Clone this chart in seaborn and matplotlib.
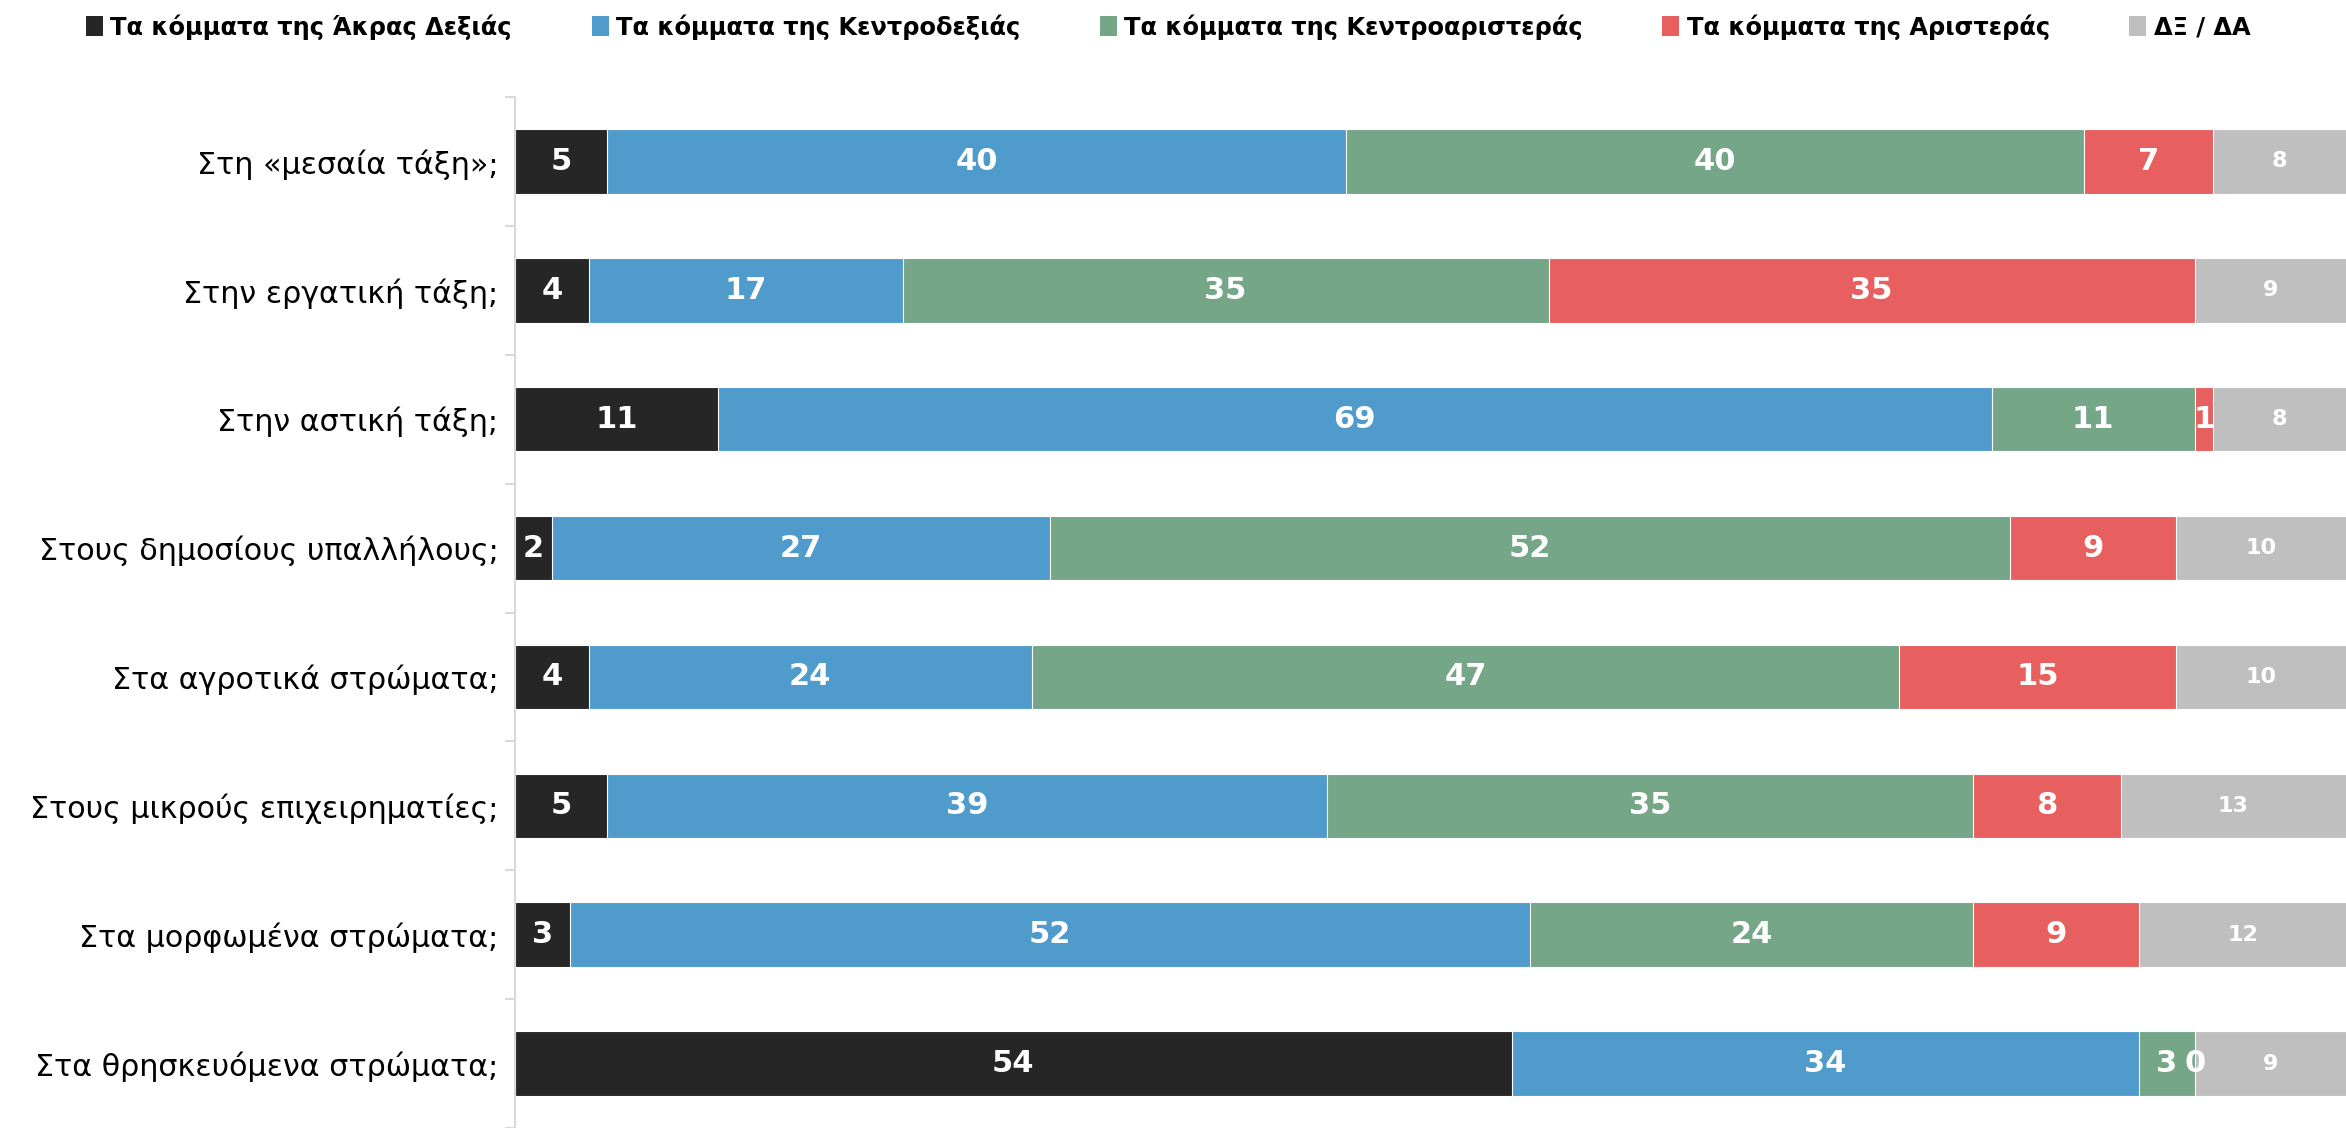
import numpy as np
import pandas as pd
import matplotlib
matplotlib.use("Agg")
import matplotlib.pyplot as plt
import seaborn as sns
from matplotlib.patches import Patch

# ---------------------------------------------------------
# DATA (% of respondents)
# ---------------------------------------------------------
categories = [
    "Στη «μεσαία τάξη»;",
    "Στην εργατική τάξη;",
    "Στην αστική τάξη;",
    "Στους δημοσίους υπαλλήλους;",
    "Στα αγροτικά στρώματα;",
    "Στους μικρούς επιχειρηματίες;",
    "Στα μορφωμένα στρώματα;",
    "Στα θρησκευόμενα στρώματα;",
]

series_names = [
    "Τα κόμματα της Άκρας Δεξιάς",
    "Τα κόμματα της Κεντροδεξιάς",
    "Τα κόμματα της Κεντροαριστεράς",
    "Τα κόμματα της Αριστεράς",
    "ΔΞ / ΔΑ",
]

far_right = [5, 4, 11, 2, 4, 5, 3, 54]
centre_right = [40, 17, 69, 27, 24, 39, 52, 34]
centre_left = [40, 35, 11, 52, 47, 35, 24, 3]
left_parties = [7, 35, 1, 9, 15, 8, 9, 0]
dont_know = [8, 9, 8, 10, 10, 13, 12, 9]

colors = ["#262626", "#4F9BCB", "#76A688", "#E85F5F", "#BFBFBF"]


def main():
    sns.set_theme(style="white")
    plt.rcParams["font.family"] = ["DejaVu Sans"]

    values = [far_right, centre_right, centre_left, left_parties, dont_know]
    df = pd.DataFrame({n: v for n, v in zip(series_names, values)}, index=categories)
    cum = df.cumsum(axis=1)
    x_max = 99.2

    fig = plt.figure(figsize=(23.46, 11.28), dpi=100)
    ax = fig.add_axes([0.2195, 0.0, 0.7805, 0.914])

    # stacked bars: draw the cumulative totals, widest first, so each
    # segment sits on top of the one after it
    for name, color in reversed(list(zip(series_names, colors))):
        sns.barplot(x=cum[name].values, y=categories, color=color, width=0.5,
                    orient="h", saturation=1, edgecolor="white", linewidth=0.8,
                    ax=ax)

    # value labels in the middle of each (visible) segment
    for j, name in enumerate(series_names):
        for i, cat in enumerate(categories):
            end = cum.loc[cat, name]
            start = end - df.loc[cat, name]
            mid = (start + min(end, x_max)) / 2
            is_dk = j == len(series_names) - 1
            ax.text(mid, i, f"{df.loc[cat, name]:g}", ha="center", va="center",
                    color="white", fontweight="bold",
                    fontsize=16 if is_dk else 22)

    ax.set_xlim(0, x_max)
    ax.set_ylim(7.46, -0.5)
    ax.set_xlabel("")
    ax.set_ylabel("")
    ax.set_xticks([])

    for side in ["top", "right", "bottom"]:
        ax.spines[side].set_visible(False)
    ax.spines["left"].set_color("#D9D9D9")
    ax.spines["left"].set_linewidth(1.5)

    ax.set_yticks(range(len(categories)))
    ax.set_yticklabels(categories, fontsize=21.7, color="#000000")
    ax.set_yticks(np.arange(-0.5, len(categories), 1), minor=True)
    ax.tick_params(axis="y", which="major", length=0, pad=12)
    ax.tick_params(axis="y", which="minor", length=7, width=1.5,
                   color="#D9D9D9", left=True)

    handles = [Patch(facecolor=c, edgecolor="none") for c in colors]
    fig.legend(handles, series_names, loc="center",
               bbox_to_anchor=(0.498, 1 - 27 / 1128), ncol=5, frameon=False,
               prop={"weight": "bold", "size": 17.4}, labelcolor="#000000",
               handlelength=0.7, handleheight=0.9, handletextpad=0.3,
               columnspacing=3.3)

    fig.savefig("out.png", dpi=100)


if __name__ == "__main__":
    main()
